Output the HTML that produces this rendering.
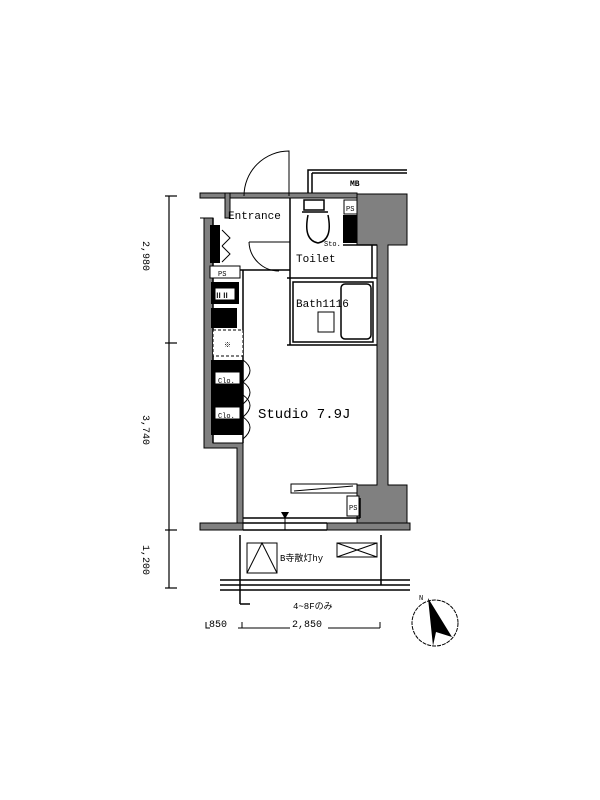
<!DOCTYPE html>
<html><head><meta charset="utf-8"><style>body{margin:0;background:#fff}svg{display:block}text{font-family:"Liberation Mono","Noto Sans CJK JP",monospace}</style></head><body>
<svg width="600" height="800" viewBox="0 0 600 800" xmlns="http://www.w3.org/2000/svg">
<rect width="600" height="800" fill="#fff"/>
<!-- dimension left -->
<g stroke="#000" stroke-width="1.2" fill="none">
<line x1="169" y1="196" x2="169" y2="588"/>
<line x1="165" y1="196" x2="177" y2="196"/><line x1="165" y1="343" x2="177" y2="343"/>
<line x1="165" y1="530" x2="177" y2="530"/><line x1="165" y1="588" x2="177" y2="588"/>
</g>
<g font-size="10" fill="#000">
<text transform="translate(143,256) rotate(90)" text-anchor="middle">2,980</text>
<text transform="translate(143,430) rotate(90)" text-anchor="middle">3,740</text>
<text transform="translate(143,560) rotate(90)" text-anchor="middle">1,200</text>
</g>
<!-- MB box -->
<g stroke="#000" stroke-width="1.5" fill="none">
<polyline points="308,193 308,170 407,170"/><line x1="312" y1="173" x2="407" y2="173"/><line x1="312" y1="173" x2="312" y2="193"/>
</g>
<text x="350" y="186" font-size="8" font-weight="bold">MB</text>
<!-- walls grey -->
<g fill="#808080" stroke="#000" stroke-width="1">
<rect x="200" y="193" width="157" height="5"/>
<rect x="225" y="193" width="5" height="25"/>
<polygon points="357,194 407,194 407,245 388,245 388,485 407,485 407,530 357,530 357,485 377,485 377,245 357,245"/>
<polygon points="200,218 213,218 213,443 243,443 243,525 237,525 237,448 204,448 204,218"/>
<rect x="200" y="523" width="43" height="7"/>
<rect x="327" y="523" width="83" height="7"/>
</g>
<!-- interior lines -->
<g stroke="#000" stroke-width="1.5" fill="none">
<line x1="213" y1="218" x2="213" y2="443"/>
<line x1="290" y1="198" x2="290" y2="345"/>
<line x1="230" y1="270" x2="290" y2="270"/>
<line x1="287" y1="345" x2="377" y2="345"/>
<line x1="287" y1="278" x2="377" y2="278"/>
<line x1="343" y1="245" x2="377" y2="245"/>
<line x1="372" y1="245" x2="372" y2="278"/>
<line x1="243" y1="270" x2="243" y2="443"/>
<rect x="293" y="282" width="80" height="60"/>
<rect x="341" y="284" width="30" height="55" rx="4"/>
<line x1="243" y1="518" x2="327" y2="518"/><line x1="243" y1="530" x2="327" y2="530"/>
<line x1="243" y1="523" x2="327" y2="523"/>
<line x1="360" y1="498" x2="360" y2="518"/><line x1="327" y1="518" x2="360" y2="518"/>
<path d="M244,196 A45,45 0 0 1 289,151 L289,196" stroke-width="1"/>
<path d="M249,242 A30,30 0 0 0 279,271" stroke-width="1"/>
<line x1="249" y1="242" x2="290" y2="242" stroke-width="1"/>
<path d="M304,200 h20 v10 h-20z M302,212 h26 M308,215 q-5,25 10,28 q15,-3 10,-28"/>
<path d="M318,312 h16 v20 h-16z" stroke-width="1"/>
<rect x="291" y="484" width="66" height="9" stroke-width="1"/>
<line x1="294" y1="491" x2="353" y2="486" stroke-width="1"/>
</g>
<!-- black fills -->
<g fill="#000">
<rect x="210" y="225" width="10" height="38"/>
<rect x="343" y="215" width="14" height="28"/>
<rect x="211" y="282" width="28" height="22"/>
<rect x="211" y="308" width="26" height="20"/>
<rect x="211" y="360" width="32" height="75"/>
</g>
<g fill="#fff" stroke="#000" stroke-width="1">
<rect x="210" y="266" width="30" height="12"/>
<rect x="344" y="200" width="13" height="14"/>
<rect x="215" y="288" width="20" height="12"/>
<rect x="215" y="372" width="25" height="12"/>
<rect x="215" y="407" width="25" height="12"/>
<rect x="347" y="496" width="12" height="20"/>
<rect x="213" y="330" width="30" height="26" stroke-dasharray="3,2"/>
</g>
<g stroke="#000" stroke-width="1" fill="none">
<path d="M243,360 q14,10 0,22 q14,10 0,22 M243,395 q14,10 0,22 q14,10 0,22"/>
<path d="M222,230 l8,8 -8,8 M222,246 l8,8 -8,8"/>
</g>
<g font-size="11" fill="#000">
<text x="228" y="219">Entrance</text>
<text x="296" y="262">Toilet</text>
<text x="296" y="307">Bath1116</text>
<text x="258" y="418" font-size="14">Studio 7.9J</text>
</g>
<g font-size="7" fill="#000">
<text x="346" y="211">PS</text><text x="218" y="276">PS</text><text x="349" y="510">PS</text>
<text x="324" y="246">Sto.</text>
<text x="218" y="383">Clo.</text><text x="218" y="418">Clo.</text>
<text x="215" y="298" font-weight="bold">ⅡⅡ</text>
<text x="224" y="347">※</text>
</g>
<!-- balcony -->
<g stroke="#000" stroke-width="1.5" fill="none">
<line x1="240" y1="535" x2="240" y2="604"/><line x1="240" y1="604" x2="250" y2="604"/>
<line x1="381" y1="535" x2="381" y2="585"/>
<line x1="220" y1="580" x2="410" y2="580"/><line x1="220" y1="585" x2="410" y2="585"/><line x1="220" y1="590" x2="410" y2="590"/>
<rect x="247" y="543" width="30" height="30" stroke-width="1"/><path d="M247,573 L262,543 L277,573" stroke-width="1"/>
<rect x="337" y="543" width="40" height="14" stroke-width="1"/><path d="M337,543 L377,557 M337,557 L377,543" stroke-width="1"/>
<line x1="285" y1="515" x2="285" y2="530" stroke-width="1"/>
</g>
<polygon points="281,512 289,512 285,519" fill="#000"/>
<text x="280" y="561" font-size="9">B寺散灯hy</text>
<text x="293" y="609" font-size="9">4~8Fのみ</text>
<!-- bottom dimension -->
<g stroke="#000" stroke-width="1" fill="none">
<polyline points="206,622 206,628 210,628"/><polyline points="238,628 242,628 242,622"/>
<line x1="242" y1="628" x2="290" y2="628"/><line x1="328" y1="628" x2="380" y2="628"/><line x1="380" y1="628" x2="380" y2="622"/>
</g>
<text x="209" y="627" font-size="10">850</text><text x="292" y="627" font-size="10">2,850</text>
<!-- compass -->
<circle cx="435" cy="623" r="23" fill="none" stroke="#000" stroke-width="1" stroke-dasharray="4,1"/>
<polygon points="428,598 452,637 436,632 433,646" fill="#000"/>
<text x="419" y="600" font-size="7">N</text>
</svg>
</body></html>
